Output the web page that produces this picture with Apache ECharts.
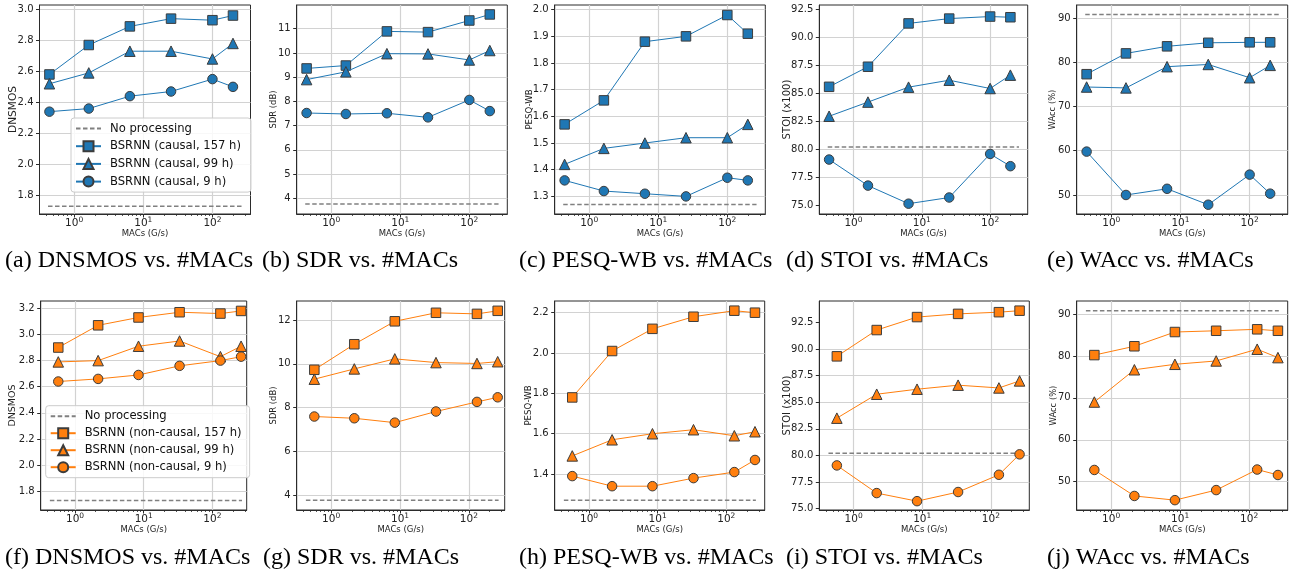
<!DOCTYPE html>
<html><head><meta charset="utf-8">
<script src="https://cdn.jsdelivr.net/npm/echarts@6/dist/echarts.min.js"></script>
<style>html,body{margin:0;padding:0;background:#fff}#c{width:1298px;height:575px}</style>
</head><body><div id="c"></div>
<script>
// ---------------- data ----------------
const macsCausal = [0.44, 1.63, 6.4, 25.2, 100, 198];
const macsNonCausal = [0.57, 2.17, 8.4, 33.3, 131, 262];
const noProcXCausal = [0.42, 265];
const noProcXNonCausal = [0.43, 270];

const noProcLabel = 'No processing';
const causalLabels = ['BSRNN (causal, 157 h)', 'BSRNN (causal, 99 h)', 'BSRNN (causal, 9 h)'];
const nonCausalLabels = ['BSRNN (non-causal, 157 h)', 'BSRNN (non-causal, 99 h)', 'BSRNN (non-causal, 9 h)'];

const metricNames = ['DNSMOS', 'SDR (dB)', 'PESQ-WB', 'STOI (x100)', 'WAcc (%)'];
const noProcessing = [1.73, 3.76, 1.27, 80.2, 90.8];

const dnsmosCausal = [[2.58, 2.77, 2.89, 2.94, 2.93, 2.96], [2.52, 2.59, 2.73, 2.73, 2.68, 2.78], [2.34, 2.36, 2.44, 2.47, 2.55, 2.50]];
const sdrCausal = [[9.36, 9.48, 10.89, 10.86, 11.34, 11.59], [8.90, 9.22, 9.97, 9.96, 9.71, 10.10], [7.52, 7.48, 7.51, 7.34, 8.06, 7.60]];
const pesqCausal = [[1.57, 1.66, 1.88, 1.90, 1.98, 1.91], [1.42, 1.48, 1.50, 1.52, 1.52, 1.57], [1.36, 1.32, 1.31, 1.30, 1.37, 1.36]];
const stoiCausal = [[85.56, 87.35, 91.21, 91.64, 91.82, 91.76], [82.94, 84.20, 85.53, 86.15, 85.41, 86.60], [79.08, 76.76, 75.15, 75.70, 79.58, 78.49]];
const waccCausal = [[77.3, 82.0, 83.6, 84.4, 84.5, 84.5], [74.4, 74.2, 79.0, 79.5, 76.5, 79.3], [59.8, 50.0, 51.4, 47.8, 54.6, 50.3]];

const dnsmosNonCausal = [[2.90, 3.07, 3.13, 3.17, 3.16, 3.18], [2.79, 2.80, 2.91, 2.95, 2.83, 2.91], [2.64, 2.66, 2.69, 2.76, 2.80, 2.83]];
const sdrNonCausal = [[9.73, 10.90, 11.95, 12.34, 12.29, 12.43], [9.30, 9.77, 10.23, 10.06, 10.02, 10.10], [7.59, 7.51, 7.31, 7.82, 8.26, 8.47]];
const pesqNonCausal = [[1.78, 2.01, 2.12, 2.18, 2.21, 2.20], [1.49, 1.57, 1.60, 1.62, 1.59, 1.61], [1.39, 1.34, 1.34, 1.38, 1.41, 1.47]];
const stoiNonCausal = [[89.31, 91.78, 93.00, 93.30, 93.46, 93.60], [83.50, 85.75, 86.22, 86.60, 86.34, 87.00], [79.06, 76.46, 75.70, 76.56, 78.18, 80.10]];
const waccNonCausal = [[80.2, 82.3, 85.7, 86.0, 86.35, 86.0], [69.0, 76.7, 78.0, 78.8, 81.6, 79.6], [52.8, 46.6, 45.6, 48.0, 52.9, 51.6]];

const stoiTicks = [75, 77.5, 80, 82.5, 85, 87.5, 90, 92.5];
const minorXTicks = [0.4, 0.5, 0.6, 0.7, 0.8, 0.9, 2, 3, 4, 5, 6, 7, 8, 9, 20, 30, 40, 50, 60, 70, 80, 90, 200, 300];

const captionsTop = ['(a) DNSMOS vs. #MACs', '(b) SDR vs. #MACs', '(c) PESQ-WB vs. #MACs', '(d) STOI vs. #MACs', '(e) WAcc vs. #MACs'];
const captionsBottom = ['(f) DNSMOS vs. #MACs', '(g) SDR vs. #MACs', '(h) PESQ-WB vs. #MACs', '(i) STOI vs. #MACs', '(j) WAcc vs. #MACs'];

// ---------------- layout / style ----------------
const FONT = 'DejaVu Sans';
const rows = [
  {macs: macsCausal, npx: noProcXCausal, names: causalLabels, color: '#1f77b4',
   data: [dnsmosCausal, sdrCausal, pesqCausal, stoiCausal, waccCausal], captions: captionsTop,
   capLeft: [5, 262, 519, 786, 1047], capTop: 249},
  {macs: macsNonCausal, npx: noProcXNonCausal, names: nonCausalLabels, color: '#ff7f0e',
   data: [dnsmosNonCausal, sdrNonCausal, pesqNonCausal, stoiNonCausal, waccNonCausal], captions: captionsBottom,
   capLeft: [5, 263, 519, 786, 1047], capTop: 546}
];
const panels = [
  {left: 39.5, top: 5, width: 211, height: 209, xMax: 2.55, yMin: 1.68, yMax: 3.028, split: 7, dec: 1, yGap: 20.7, yFont: 10.6},
  {left: 296.7, top: 5, width: 210.6, height: 209, xMax: 2.55, yMin: 3.35, yMax: 11.98, split: 8, dec: 0, yGap: 18.8, yFont: 8.4},
  {left: 554.7, top: 5, width: 210.6, height: 209, xMax: 2.55, yMin: 1.234, yMax: 2.0175, split: 8, dec: 1, yGap: 20.7, yFont: 8.6},
  {left: 819.3, top: 5, width: 208.4, height: 209, xMax: 2.55, yMin: 74.23, yMax: 92.85, custom: stoiTicks, dec: 1, yGap: 26.6, yFont: 10.1},
  {left: 1076.7, top: 5, width: 211, height: 209, xMax: 2.55, yMin: 45.7, yMax: 92.94, split: 5, dec: 0, yGap: 19.8, yFont: 8.4},
  {left: 40.7, top: 301, width: 206, height: 209, xMax: 2.50, yMin: 1.657, yMax: 3.256, split: 8, dec: 1, yGap: 22.7, yFont: 9.5},
  {left: 296.7, top: 301, width: 208, height: 209, xMax: 2.52, yMin: 3.31, yMax: 12.88, split: 5, dec: 0, yGap: 18.8, yFont: 8.4},
  {left: 554.7, top: 301, width: 210, height: 209, xMax: 2.56, yMin: 1.222, yMax: 2.258, split: 5, dec: 1, yGap: 21.7, yFont: 8.6},
  {left: 819.3, top: 301, width: 210, height: 209, xMax: 2.56, yMin: 74.87, yMax: 94.51, custom: stoiTicks, dec: 1, yGap: 26.6, yFont: 10.1},
  {left: 1076.7, top: 301, width: 211, height: 209, xMax: 2.56, yMin: 43.25, yMax: 93.1, split: 5, dec: 0, yGap: 19.2, yFont: 8.4}
];
const symbols = ['rect', 'triangle', 'circle'];
const symbolSizes = [9.5, 10.5, 9.5];
const AXIS_COLOR = '#2b2b2b';
const GRID_COLOR = '#d2d2d2';

const grid = [], xAxis = [], yAxis = [], series = [], title = [];

panels.forEach((p, i) => {
  const r = Math.floor(i / 5), m = i % 5, row = rows[r];
  grid.push({left: p.left, top: p.top, width: p.width, height: p.height, show: true,
    borderColor: AXIS_COLOR, borderWidth: 1, backgroundColor: 'transparent', containLabel: false, outerBoundsMode: 'none'});
  const xmin = Math.pow(10, -0.5), xmax = Math.pow(10, p.xMax);
  xAxis.push({
    type: 'log', logBase: 10, gridIndex: i, min: xmin, max: xmax, position: 'bottom',
    name: 'MACs (G/s)', nameLocation: 'middle', nameGap: 15, nameMoveOverlap: false,
    nameTextStyle: {fontFamily: FONT, fontSize: 8.5, color: '#222'},
    axisLine: {show: true, onZero: false, lineStyle: {color: AXIS_COLOR, width: 1}},
    axisTick: {show: true, length: 3.5, lineStyle: {color: AXIS_COLOR, width: 1}},
    axisLabel: {show: true, margin: 2, color: '#222',
      showMinLabel: false, showMaxLabel: false,
      formatter: v => { const l = Math.log10(v); const k = Math.round(l); return Math.abs(l - k) < 1e-6 ? '{b|10}{s|' + k + '}' : ''; },
      rich: {
        b: {fontFamily: FONT, fontSize: 10.5, lineHeight: 13, verticalAlign: 'bottom', color: '#222'},
        s: {fontFamily: FONT, fontSize: 7.5, lineHeight: 13, verticalAlign: 'top', color: '#222'}
      }},
    splitLine: {show: true, showMinLine: false, showMaxLine: false, lineStyle: {color: GRID_COLOR, width: 1.2}}
  });
  xAxis.push({
    type: 'log', logBase: 10, gridIndex: i, min: xmin, max: xmax, position: 'bottom',
    axisLine: {show: false, onZero: false}, axisLabel: {show: false}, splitLine: {show: false},
    axisTick: {show: true, length: 2, customValues: minorXTicks, lineStyle: {color: AXIS_COLOR, width: 0.8}}
  });
  const ya = {
    type: 'value', gridIndex: i, min: p.yMin, max: p.yMax, scale: true,
    name: metricNames[m], nameLocation: 'middle', nameRotate: 90, nameGap: p.yGap, nameMoveOverlap: false,
    nameTextStyle: {fontFamily: FONT, fontSize: p.yFont, color: '#222'},
    axisLine: {show: true, onZero: false, lineStyle: {color: AXIS_COLOR, width: 1}},
    axisTick: {show: true, length: 3.5, lineStyle: {color: AXIS_COLOR, width: 1}},
    axisLabel: {show: true, margin: 6, fontFamily: FONT, fontSize: 10, color: '#222',
      formatter: v => v.toFixed(p.dec)},
    splitLine: {show: true, showMinLine: false, showMaxLine: false, lineStyle: {color: GRID_COLOR, width: 1.2}}
  };
  if (p.custom) {
    ya.axisTick.customValues = p.custom;
    ya.axisLabel.customValues = p.custom;
    ya.splitLine.customValues = p.custom;
  } else {
    ya.splitNumber = p.split;
    ya.axisLabel.showMinLabel = false;
    ya.axisLabel.showMaxLabel = false;
  }
  yAxis.push(ya);

  series.push({
    type: 'line', name: noProcLabel, xAxisIndex: 2 * i, yAxisIndex: i,
    data: row.npx.map(x => [x, noProcessing[m]]), symbol: 'none', silent: true, z: 2,
    lineStyle: {color: '#808080', width: 1.5, type: [4.5, 2.5]}, itemStyle: {color: '#808080'}
  });
  row.names.forEach((nm, k) => {
    series.push({
      type: 'line', name: nm, xAxisIndex: 2 * i, yAxisIndex: i,
      data: row.macs.map((x, j) => [x, row.data[m][k][j]]),
      symbol: symbols[k], symbolSize: symbolSizes[k], showAllSymbol: true, silent: true, z: 3 + k,
      lineStyle: {color: row.color, width: 1},
      itemStyle: {color: row.color, borderColor: '#3c3c3c', borderWidth: 1}
    });
  });
  title.push({text: row.captions[m], left: row.capLeft[m], top: row.capTop, padding: 0,
    textStyle: {fontFamily: 'Liberation Serif', fontSize: 24, fontWeight: 'normal', color: '#000'}});
});

const legendCommon = {
  orient: 'vertical', itemWidth: 25, itemHeight: 12.5, selectedMode: false,
  backgroundColor: 'rgba(255,255,255,0.85)', borderColor: '#cccccc', borderWidth: 1, borderRadius: 3,
  textStyle: {fontFamily: FONT, fontSize: 11.6, color: '#111', lineHeight: 13, padding: [0, 0, 0, 4]}
};
const noProcItem = {name: noProcLabel, itemStyle: {opacity: 0}};
const legend = [
  Object.assign({}, legendCommon, {data: [noProcItem, ...causalLabels], left: 71, top: 118, itemGap: 4.7, padding: [4, 10, 4, 4]}),
  Object.assign({}, legendCommon, {data: [noProcItem, ...nonCausalLabels], left: 45.7, top: 405.7, itemGap: 4, padding: [4, 8, 4, 4]})
];

const chart = echarts.init(document.getElementById('c'), null, {renderer: 'canvas'});
chart.setOption({animation: false, backgroundColor: '#fff', grid, xAxis, yAxis, series, title, legend});
</script></body></html>
